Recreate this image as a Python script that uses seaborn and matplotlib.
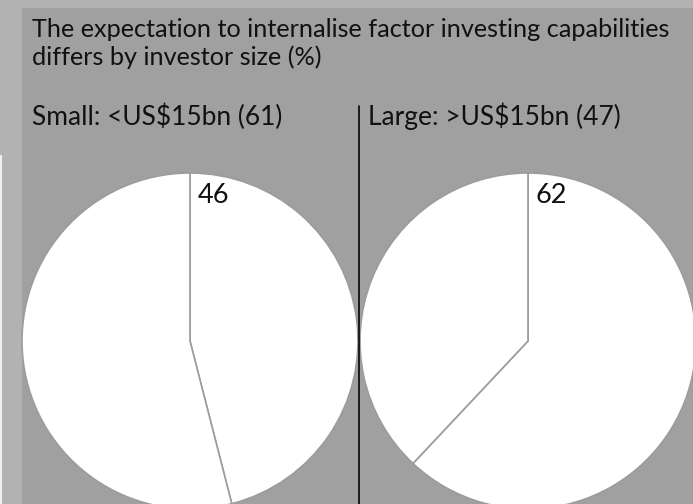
import matplotlib
matplotlib.use("Agg")
import matplotlib.pyplot as plt
from matplotlib.patches import Rectangle
from matplotlib.lines import Line2D
import seaborn as sns

title_lines = ["The expectation to internalise factor investing capabilities",
               "differs by investor size (%)"]
groups = ["Small: <US$15bn (61)", "Large: >US$15bn (47)"]
internalise_pct = [46, 62]

W, H = 693, 504
outer_bg = "#b2b2b2"
panel_bg = "#a0a0a0"
edge_col = "#9c9c9c"

sns.set_theme(style="white")
plt.rcParams["font.family"] = ["Lato", "DejaVu Sans"]

fig = plt.figure(figsize=(W / 100, H / 100), dpi=100, facecolor=outer_bg)

# grey panel behind everything
fig.patches.append(Rectangle((22 / W, 0), 1, (H - 8) / H, transform=fig.transFigure,
                             facecolor=panel_bg, edgecolor="none", zorder=-2))
fig.patches.append(Rectangle((0, 0), 1.5 / W, (H - 155) / H, transform=fig.transFigure,
                             facecolor="#f0f0f0", edgecolor="none", zorder=-2))

fs = 18.2
fs_sub = 19
fig.text(32 / W, 1 - 37 / H, title_lines[0], fontsize=fs, va="baseline", color="#111111")
fig.text(32 / W, 1 - 65 / H, title_lines[1], fontsize=fs, va="baseline", color="#111111")

# pies: centre x in px, radius in px
centres = [190, 528]
cy, r = 341, 168
sub_x = [32, 368]
for cx, val, grp, sx in zip(centres, internalise_pct, groups, sub_x):
    fig.text(sx / W, 1 - 125 / H, grp, fontsize=fs_sub, va="baseline", color="#111111")
    ax = fig.add_axes([(cx - r) / W, (H - cy - r) / H, 2 * r / W, 2 * r / H])
    ax.pie([val, 100 - val], startangle=90, counterclock=False,
           colors=["white", "white"],
           wedgeprops=dict(edgecolor=edge_col, linewidth=1.2))
    ax.set_xlim(-1, 1)
    ax.set_ylim(-1, 1)
    ax.set_axis_off()
    ax.text(0.045, 0.82, str(val), fontsize=fs_sub + 0.5, va="baseline", ha="left",
            color="#111111")

# divider between the two pies
fig.lines.append(Line2D([359 / W, 359 / W], [0, 1 - 106 / H], transform=fig.transFigure,
                        color="#111111", linewidth=1.3, zorder=5))

fig.savefig("out.png", dpi=100, facecolor=outer_bg)
